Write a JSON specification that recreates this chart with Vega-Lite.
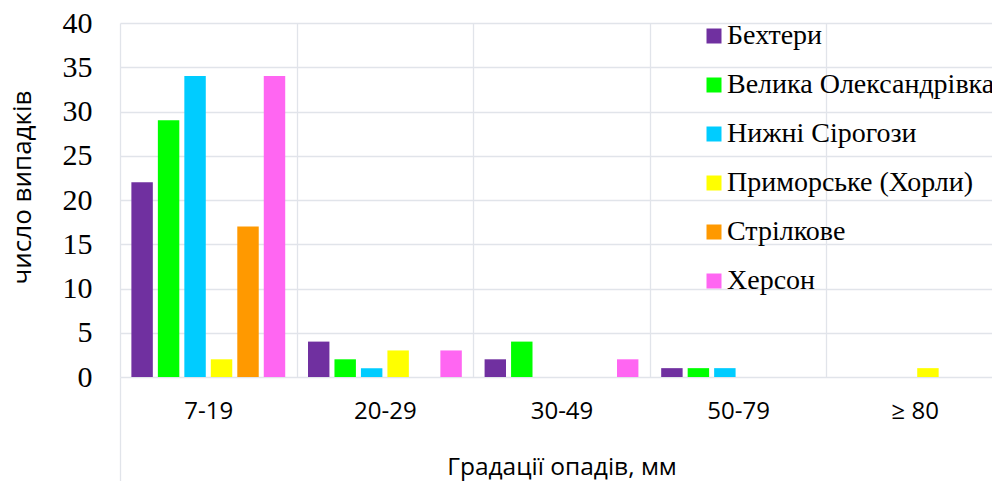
{
  "$schema": "https://vega.github.io/schema/vega-lite/v6.json",
  "autosize": {"type": "none"},
  "width": 883,
  "height": 354,
  "padding": {"left": 120, "top": 23, "right": 0, "bottom": 104},
  "background": "white",
  "config": {"view": {"stroke": null}, "legend": {"labelFont": "Liberation Serif"}},
  "data": {"values": [
    {"cat": "7-19", "st": "Бехтери", "v": 22},
    {"cat": "7-19", "st": "Велика Олександрівка", "v": 29},
    {"cat": "7-19", "st": "Нижні Сірогози", "v": 34},
    {"cat": "7-19", "st": "Приморське (Хорли)", "v": 2},
    {"cat": "7-19", "st": "Стрілкове", "v": 17},
    {"cat": "7-19", "st": "Херсон", "v": 34},
    {"cat": "20-29", "st": "Бехтери", "v": 4},
    {"cat": "20-29", "st": "Велика Олександрівка", "v": 2},
    {"cat": "20-29", "st": "Нижні Сірогози", "v": 1},
    {"cat": "20-29", "st": "Приморське (Хорли)", "v": 3},
    {"cat": "20-29", "st": "Стрілкове", "v": 0},
    {"cat": "20-29", "st": "Херсон", "v": 3},
    {"cat": "30-49", "st": "Бехтери", "v": 2},
    {"cat": "30-49", "st": "Велика Олександрівка", "v": 4},
    {"cat": "30-49", "st": "Нижні Сірогози", "v": 0},
    {"cat": "30-49", "st": "Приморське (Хорли)", "v": 0},
    {"cat": "30-49", "st": "Стрілкове", "v": 0},
    {"cat": "30-49", "st": "Херсон", "v": 2},
    {"cat": "50-79", "st": "Бехтери", "v": 1},
    {"cat": "50-79", "st": "Велика Олександрівка", "v": 1},
    {"cat": "50-79", "st": "Нижні Сірогози", "v": 1},
    {"cat": "50-79", "st": "Приморське (Хорли)", "v": 0},
    {"cat": "50-79", "st": "Стрілкове", "v": 0},
    {"cat": "50-79", "st": "Херсон", "v": 0},
    {"cat": "≥ 80", "st": "Бехтери", "v": 0},
    {"cat": "≥ 80", "st": "Велика Олександрівка", "v": 0},
    {"cat": "≥ 80", "st": "Нижні Сірогози", "v": 0},
    {"cat": "≥ 80", "st": "Приморське (Хорли)", "v": 1},
    {"cat": "≥ 80", "st": "Стрілкове", "v": 0},
    {"cat": "≥ 80", "st": "Херсон", "v": 0}
  ]},
  "mark": {"type": "bar"},
  "encoding": {
    "x": {
      "field": "cat", "type": "nominal",
      "sort": ["7-19", "20-29", "30-49", "50-79", "≥ 80"],
      "scale": {"paddingInner": 0, "paddingOuter": 0},
      "axis": {
        "title": "Градації опадів, мм",
        "titleFont": "Open Sans", "titleFontSize": 24.5, "titleFontWeight": "normal", "titleColor": "#000000",
        "titleY": 90, "titleBaseline": "middle",
        "labelFont": "Open Sans", "labelFontSize": 24, "labelColor": "#000000", "labelAngle": 0,
        "labelPadding": -82,
        "domain": false,
        "grid": true, "gridColor": "#e1e4ea", "gridWidth": 1.3,
        "tickBand": "extent",
        "ticks": true, "tickSize": 104, "tickWidth": 1.3,
        "tickColor": {"condition": {"test": "!!datum.extra", "value": "#e1e4ea"}, "value": "transparent"}
      }
    },
    "xOffset": {
      "field": "st", "type": "nominal",
      "sort": ["Бехтери", "Велика Олександрівка", "Нижні Сірогози", "Приморське (Хорли)", "Стрілкове", "Херсон"],
      "scale": {"paddingInner": 0.19, "paddingOuter": 0.43}
    },
    "y": {
      "field": "v", "type": "quantitative",
      "scale": {"domain": [0, 40], "nice": false},
      "axis": {
        "title": "число випадків",
        "titleFont": "Open Sans", "titleFontSize": 26, "titleFontWeight": "normal", "titleColor": "#000000",
        "titleX": -98, "titleY": 164, "titleBaseline": "middle", "titleAlign": "center", "titleAngle": -90,
        "values": [0, 5, 10, 15, 20, 25, 30, 35, 40],
        "labelFont": "Liberation Serif", "labelFontSize": 30, "labelColor": "#000000",
        "labelPadding": 28,
        "domain": false, "ticks": false,
        "grid": true, "gridColor": "#e1e4ea", "gridWidth": 1.3
      }
    },
    "color": {
      "field": "st", "type": "nominal",
      "sort": ["Бехтери", "Велика Олександрівка", "Нижні Сірогози", "Приморське (Хорли)", "Стрілкове", "Херсон"],
      "scale": {
        "domain": ["Бехтери", "Велика Олександрівка", "Нижні Сірогози", "Приморське (Хорли)", "Стрілкове", "Херсон"],
        "range": ["#7030A0", "#00FF00", "#00CCFF", "#FFFF00", "#FF9900", "#FF66F2"]
      },
      "legend": {
        "title": null,
        "orient": "none",
        "legendX": 580,
        "legendY": -1,
        "padding": 0,
        "symbolType": "square",
        "symbolSize": 225,
        "symbolStrokeWidth": 0,
        "labelFont": "Liberation Serif",
        "labelFontSize": 28,
        "labelColor": "#000000",
        "labelOffset": -1,
        "labelLimit": 0,
        "rowPadding": 21
      }
    }
  }
}
